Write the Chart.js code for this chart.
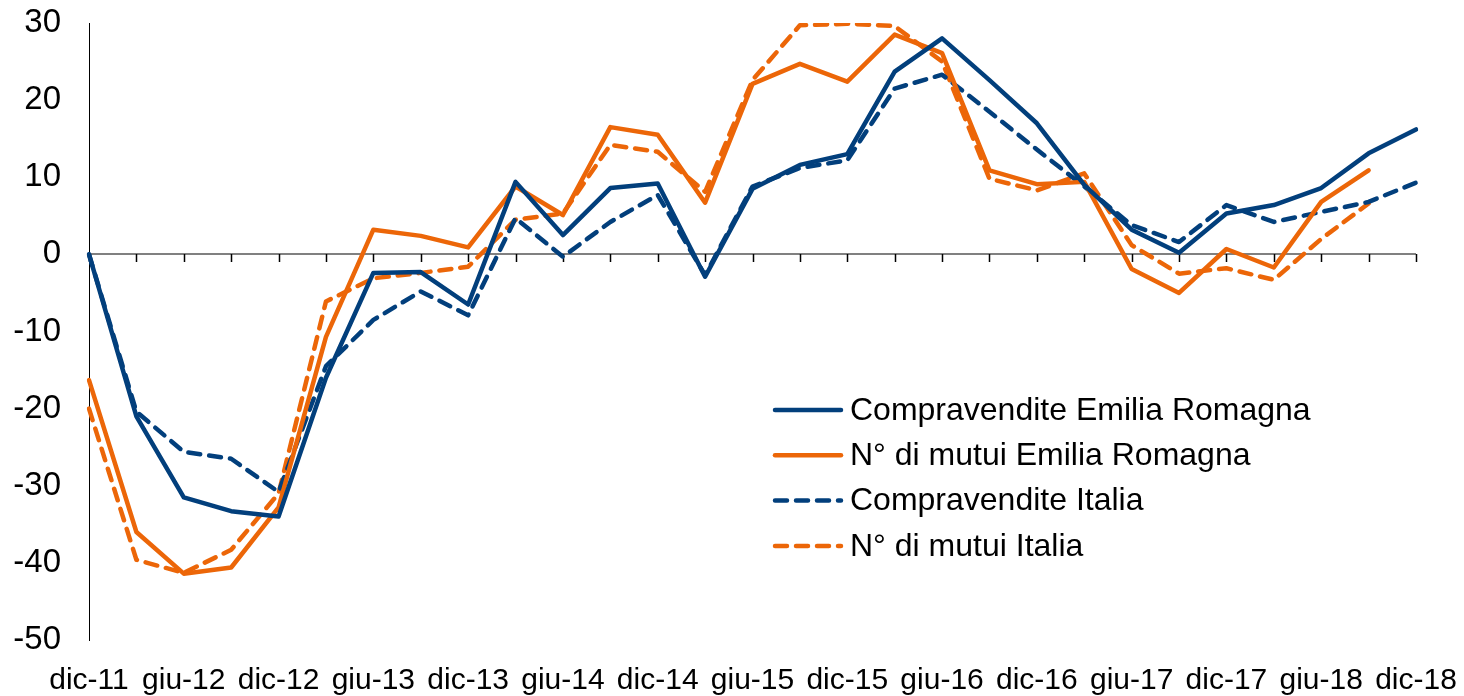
<!DOCTYPE html>
<html>
<head>
<meta charset="utf-8">
<script src="https://cdn.jsdelivr.net/npm/chart.js@4"></script>
<style>
  html, body { margin: 0; padding: 0; background: #fff; }
  #wrap { width: 1464px; height: 696px; position: relative; }
</style>
</head>
<body>
<div id="wrap"><canvas id="chart"></canvas></div>
<script>
// quarterly periods, dic-11 .. dic-18
const categories = [
  'dic-11', 'mar-12', 'giu-12', 'set-12', 'dic-12', 'mar-13', 'giu-13', 'set-13',
  'dic-13', 'mar-14', 'giu-14', 'set-14', 'dic-14', 'mar-15', 'giu-15', 'set-15',
  'dic-15', 'mar-16', 'giu-16', 'set-16', 'dic-16', 'mar-17', 'giu-17', 'set-17',
  'dic-17', 'mar-18', 'giu-18', 'set-18', 'dic-18'
];

const compravenditeER = [0, -21, -31.5, -33.3, -34, -16, -2.4, -2.3, -6.5, 9.4, 2.5, 8.6, 9.2, -2.9,
  8.5, 11.6, 13.0, 23.7, 28.0, 22.6, 17.0, 9.0, 3.2, 0.2, 5.3, 6.4, 8.6, 13.1, 16.2];
const mutuiER = [-16.3, -36, -41.4, -40.6, -32.8, -10.7, 3.2, 2.4, 0.9, 8.8, 5.1, 16.5, 15.5, 6.7,
  22.1, 24.7, 22.4, 28.5, 26.1, 10.9, 9.1, 9.4, -1.9, -5.0, 0.7, -1.7, 6.8, 10.9, null];
const compravenditeIT = [0, -20.4, -25.6, -26.5, -30.8, -14.5, -8.5, -4.8, -7.9, 4.7, -0.3, 4.2, 7.7, -2.7,
  8.8, 11.2, 12.2, 21.5, 23.3, 18.5, 13.6, 8.8, 3.8, 1.6, 6.4, 4.2, 5.5, 6.8, 9.3];
const mutuiIT = [-20, -39.6, -41.3, -38.3, -31, -6.1, -3.1, -2.4, -1.6, 4.5, 5.3, 14.2, 13.3, 8.1,
  22.6, 29.7, 29.9, 29.6, 25.0, 9.8, 8.3, 10.5, 1.2, -2.5, -1.8, -3.3, 2.0, 6.6, null];

const yMin = -50, yMax = 30, yStep = 10;

const BLUE = '#023f7c';
const ORANGE = '#ec6608';
const FONT = '"Liberation Sans", Arial, sans-serif';

// zero line with quarter tick marks, like the Excel category axis crossing at 0
const zeroAxis = {
  id: 'zeroAxis',
  beforeDatasetsDraw(chart) {
    const { ctx, chartArea, scales: { x, y } } = chart;
    const y0 = Math.round(y.getPixelForValue(0));
    ctx.save();
    ctx.strokeStyle = '#808080';
    ctx.lineWidth = 2;
    ctx.beginPath();
    ctx.moveTo(chartArea.left, y0);
    ctx.lineTo(chartArea.right, y0);
    ctx.stroke();
    ctx.strokeStyle = '#000';
    ctx.lineWidth = 1.5;
    ctx.beginPath();
    for (let i = 0; i < x.ticks.length; i++) {
      const px = Math.round(x.getPixelForTick(i)) + 0.5;
      ctx.moveTo(px, y0);
      ctx.lineTo(px, y0 + 8);
    }
    ctx.stroke();
    ctx.restore();
  }
};

// legend drawn inside the plot area, lower right
const innerLegend = {
  id: 'innerLegend',
  afterDatasetsDraw(chart) {
    const ctx = chart.ctx;
    ctx.save();
    ctx.font = '32px ' + FONT;
    ctx.textBaseline = 'middle';
    chart.data.datasets.forEach((ds, i) => {
      const ly = 410 + i * 45.3;
      ctx.strokeStyle = ds.borderColor;
      ctx.lineWidth = ds.borderWidth;
      ctx.lineCap = 'round';
      ctx.setLineDash(ds.borderDash || []);
      ctx.beginPath();
      ctx.moveTo(775, ly);
      ctx.lineTo(841, ly);
      ctx.stroke();
      ctx.setLineDash([]);
      ctx.fillStyle = '#000';
      ctx.fillText(ds.label, 850, ly + 1);
    });
    ctx.restore();
  }
};

const lineBase = { borderWidth: 4.5, pointRadius: 0, tension: 0, fill: false, borderCapStyle: 'round', borderJoinStyle: 'round' };

new Chart(document.getElementById('chart'), {
  type: 'line',
  data: {
    labels: categories,
    datasets: [
      { ...lineBase, label: 'Compravendite Emilia Romagna', data: compravenditeER, borderColor: BLUE, order: 1 },
      { ...lineBase, label: 'N° di mutui Emilia Romagna', data: mutuiER, borderColor: ORANGE, order: 2 },
      { ...lineBase, label: 'Compravendite Italia', data: compravenditeIT, borderColor: BLUE, borderDash: [12, 9], order: 3 },
      { ...lineBase, label: 'N° di mutui Italia', data: mutuiIT, borderColor: ORANGE, borderDash: [12, 9], order: 4 }
    ]
  },
  options: {
    responsive: true,
    maintainAspectRatio: false,
    animation: false,
    devicePixelRatio: 1,
    layout: { padding: { left: 12, right: 48, top: 23, bottom: 0 } },
    plugins: {
      legend: { display: false },
      tooltip: { enabled: false }
    },
    scales: {
      x: {
        grid: { display: false, drawTicks: false },
        border: { display: false },
        afterFit(scale) {
          scale.paddingLeft = 0;
          scale.paddingRight = 0;
          scale.height = 56;
        },
        ticks: {
          autoSkip: false,
          maxRotation: 0,
          minRotation: 0,
          padding: 23,
          color: '#000',
          font: { family: FONT, size: 30 },
          callback: (v, i) => (i % 2 === 0 ? categories[i] : '')
        }
      },
      y: {
        min: yMin,
        max: yMax,
        grid: { drawOnChartArea: false, drawTicks: false },
        border: { display: true, color: '#000', width: 1 },
        afterFit(scale) {
          scale.paddingTop = 0;
          scale.paddingBottom = 0;
          scale.width = 77;
        },
        ticks: {
          stepSize: yStep,
          padding: 28,
          color: '#000',
          font: { family: FONT, size: 33 }
        }
      }
    }
  },
  plugins: [zeroAxis, innerLegend]
});
</script>
</body>
</html>
